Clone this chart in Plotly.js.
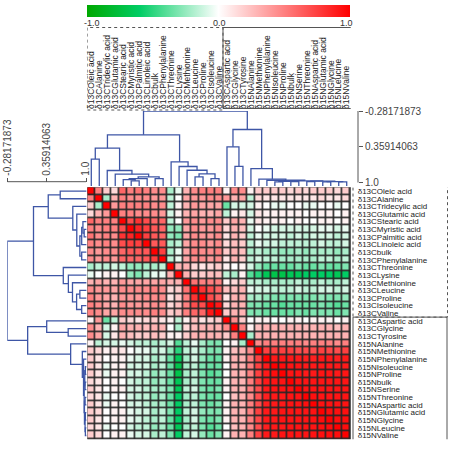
<!DOCTYPE html>
<html><head><meta charset="utf-8">
<script src="https://cdn.plot.ly/plotly-3.0.1.min.js"></script>
<style>html,body{margin:0;padding:0;background:#fff}#chart{width:449px;height:449px}</style>
</head><body><div id="chart"></div>
<script>
const labels = ['δ13COleic acid','δ13CAlanine','δ13CTridecylic acid','δ13CGlutamic acid','δ13CStearic acid','δ13CMyristic acid','δ13CPalmitic acid','δ13CLinoleic acid','δ13Cbulk','δ13CPhenylalanine','δ13CThreonine','δ13CLysine','δ13CMethionine','δ13CLeucine','δ13CProline','δ13CIsoleucine','δ13CValine','δ13CAspartic acid','δ13CGlycine','δ13CTyrosine','δ15NAlanine','δ15NMethionine','δ15NPhenylalanine','δ15NIsoleucine','δ15NProline','δ15Nbulk','δ15NSerine','δ15NThreonine','δ15NAspartic acid','δ15NGlutamic acid','δ15NGlycine','δ15NLeucine','δ15NValine'];

// lower triangle of the correlation matrix (row i holds columns 0..i)
const corrLower = [
[1],
[0.5,1],
[0.2,-0.2,1],
[0.15,0.3,0.4,1],
[0.6,0.5,0.5,0.5,1],
[0.5,0.45,0.5,0.5,0.7,1],
[0.55,0.45,0.5,0.45,0.8,0.85,1],
[0.5,0.45,0.5,0.45,0.7,0.75,0.75,1],
[0.45,0.4,0.45,0.45,0.6,0.65,0.65,0.65,1],
[0.45,0.4,0.45,0.4,0.6,0.6,0.6,0.65,0.75,1],
[-0.2,-0.15,-0.15,-0.1,-0.15,-0.25,-0.25,-0.2,-0.2,-0.15,1],
[-0.05,0.0,0.05,0.05,0.0,-0.25,-0.3,-0.15,-0.05,-0.05,0.3,1],
[0.3,0.35,0.3,0.3,0.4,0.35,0.35,0.35,0.35,0.35,0.3,0.3,1],
[0.45,0.4,0.4,0.35,0.45,0.45,0.45,0.45,0.5,0.45,0.15,0.2,0.55,1],
[0.5,0.4,0.35,0.3,0.4,0.4,0.4,0.45,0.45,0.45,0.1,0.2,0.5,0.8,1],
[0.5,0.45,0.35,0.3,0.45,0.4,0.4,0.4,0.45,0.4,0.15,0.25,0.5,0.7,0.7,1],
[0.5,0.45,0.35,0.35,0.45,0.45,0.45,0.45,0.5,0.45,0.2,0.25,0.5,0.6,0.6,0.9,1],
[0.05,0.4,-0.35,-0.15,0.2,0.15,0.1,0.15,0.2,0.1,0.05,-0.15,0.05,0.25,0.1,0.15,0.2,1],
[0.45,0.3,-0.1,0.05,0.35,0.3,0.3,0.25,0.3,0.3,0.0,-0.2,0.15,0.25,0.3,0.3,0.3,0.45,1],
[0.45,0.35,-0.1,0.1,0.3,0.25,0.2,0.2,0.25,0.2,0.05,0.05,0.2,0.3,0.3,0.3,0.3,0.2,0.5,1],
[0.05,-0.15,-0.1,-0.1,-0.05,-0.1,-0.15,-0.15,-0.2,-0.15,-0.1,-0.4,-0.15,-0.05,-0.2,-0.3,-0.3,0.0,0.05,-0.2,1],
[0.2,0.15,0.05,0.1,0.1,0.0,-0.05,-0.05,-0.15,-0.1,-0.25,-0.5,-0.15,-0.1,-0.2,-0.3,-0.3,0.05,0.25,0.3,0.45,1],
[0.2,0.1,0.0,0.05,0.05,-0.05,-0.1,-0.1,-0.2,-0.15,-0.35,-0.65,-0.2,-0.1,-0.25,-0.35,-0.35,0.05,0.3,0.3,0.5,0.75,1],
[0.2,0.1,-0.05,0.05,0.05,-0.1,-0.1,-0.1,-0.2,-0.15,-0.35,-0.7,-0.2,-0.15,-0.3,-0.35,-0.35,0.0,0.3,0.3,0.5,0.75,0.9,1],
[0.2,0.1,-0.05,0.05,0.05,-0.1,-0.1,-0.15,-0.25,-0.2,-0.35,-0.7,-0.2,-0.15,-0.3,-0.4,-0.35,0.0,0.3,0.3,0.5,0.75,0.9,0.95,1],
[0.15,0.1,0.0,0.05,0.0,-0.1,-0.15,-0.15,-0.25,-0.2,-0.35,-0.65,-0.2,-0.15,-0.3,-0.35,-0.35,0.05,0.3,0.3,0.5,0.75,0.9,0.92,0.92,1],
[0.2,0.1,0.0,0.05,0.05,-0.1,-0.1,-0.15,-0.2,-0.2,-0.3,-0.65,-0.15,-0.1,-0.3,-0.35,-0.3,0.05,0.3,0.3,0.5,0.7,0.9,0.92,0.92,0.93,1],
[0.15,0.1,-0.05,0.0,0.0,-0.1,-0.15,-0.15,-0.25,-0.2,-0.35,-0.6,-0.2,-0.15,-0.3,-0.35,-0.35,0.0,0.25,0.3,0.45,0.7,0.88,0.9,0.9,0.92,0.92,1],
[0.2,0.1,-0.05,0.05,0.0,-0.1,-0.1,-0.15,-0.2,-0.2,-0.35,-0.6,-0.2,-0.15,-0.3,-0.35,-0.3,0.05,0.3,0.3,0.5,0.7,0.88,0.9,0.9,0.92,0.92,0.94,1],
[0.2,0.15,0.0,0.05,0.05,-0.05,-0.1,-0.1,-0.2,-0.15,-0.3,-0.6,-0.15,-0.1,-0.25,-0.3,-0.3,0.05,0.3,0.3,0.5,0.75,0.9,0.9,0.92,0.92,0.92,0.92,0.93,1],
[0.2,0.1,0.0,0.05,0.05,-0.05,-0.1,-0.15,-0.2,-0.15,-0.35,-0.6,-0.2,-0.1,-0.3,-0.35,-0.3,0.05,0.3,0.3,0.5,0.72,0.9,0.9,0.92,0.92,0.92,0.92,0.93,0.95,1],
[0.15,0.1,-0.05,0.0,0.0,-0.1,-0.15,-0.15,-0.25,-0.2,-0.35,-0.65,-0.2,-0.15,-0.3,-0.4,-0.35,0.0,0.25,0.3,0.45,0.7,0.88,0.9,0.9,0.92,0.92,0.92,0.92,0.94,0.95,1],
[0.2,0.15,0.0,0.05,0.05,-0.05,-0.1,-0.1,-0.2,-0.15,-0.3,-0.6,-0.15,-0.1,-0.25,-0.35,-0.3,0.05,0.3,0.3,0.5,0.75,0.9,0.9,0.92,0.92,0.92,0.92,0.93,0.94,0.95,0.95,1]
];

// hierarchical clustering merges (node ids >= 33 refer to earlier merges)
const mergeLeft   = [5,4,34,8,35,3,2,0,40,15,13,43,12,11,10,41,18,17,23,25,51,29,31,54,27,57,53,22,21,20,50,48];
const mergeRight  = [6,33,7,9,36,37,38,1,39,16,14,42,44,45,46,47,19,49,24,26,52,30,32,55,28,56,58,59,60,61,62,63];
const mergeHeight = [0.97,0.95,0.93,0.93,0.90,0.85,0.785,0.58,0.385,0.93,0.9,0.847,0.78,0.713,0.63,0.145,0.71,0.36,0.99,0.985,0.98,0.99,0.99,0.985,0.985,0.975,0.97,0.96,0.94,0.75,0.05,-0.28171873];

const dendroTickVals = [-0.28171873, 0.35914063, 1.0];
const dendroTickText = ['-0.28171873', '0.35914063', '1.0'];
const colorTickVals = [-1, 0, 1];
const colorTickText = ['-1.0', '0.0', '1.0'];

// ---------- build ----------
const n = labels.length;
const idx = labels.map((_, i) => i);
const z = [];
for (let i = 0; i < n; i++) {
  const row = [];
  for (let j = 0; j < n; j++) row.push(i >= j ? corrLower[i][j] : corrLower[j][i]);
  z.push(row);
}

const W = 449, H = 449;
const px = v => v / W, py = v => 1 - v / H;
const gridL = 87.3, gridR = 350.7, gridT = 187.3, gridB = 439.3;
const cellH = (gridB - gridT) / n;

const topPxPerUnit = (182.5 - 111) / (1.0 - dendroTickVals[0]);
const topLeaf = 1.0 + (186 - 182.5) / topPxPerUnit;
const leftPxPerUnit = (86 - 7.3) / (1.0 - dendroTickVals[0]);
const leftLeaf = 1.0 + (86.6 - 86) / leftPxPerUnit;

function dendroPaths(leafH) {
  const pos = idx.slice(), hgt = idx.map(() => leafH);
  const a = [], b = [];
  for (let k = 0; k < mergeLeft.length; k++) {
    const L = mergeLeft[k], R = mergeRight[k], h = mergeHeight[k];
    a.push(pos[L], pos[L], pos[R], pos[R], null);
    b.push(hgt[L], h, h, hgt[R], null);
    pos.push((pos[L] + pos[R]) / 2);
    hgt.push(h);
  }
  return {a, b};
}
const topD = dendroPaths(topLeaf);
const leftD = dendroPaths(leftLeaf);

const lineStyle = {color: 'rgb(62,86,166)', width: 1.3};
const font = 'Arial, Liberation Sans, sans-serif';

const traces = [
  {
    type: 'heatmap', z: z, x: idx, y: idx, xaxis: 'x', yaxis: 'y',
    zmin: -1, zmax: 1, xgap: 1.6, ygap: 1.6, hoverinfo: 'skip',
    colorscale: [[0, 'rgb(0,168,0)'], [0.2, 'rgb(0,205,100)'], [0.5, 'rgb(255,255,255)'], [1, 'rgb(255,0,0)']],
    colorbar: {
      orientation: 'h', x: px((gridL + gridR) / 2), xanchor: 'center', y: py(5), yanchor: 'top',
      len: gridR - gridL, lenmode: 'pixels', thickness: 12, thicknessmode: 'pixels',
      xpad: 0, ypad: 0, outlinewidth: 0, showticklabels: false, ticks: ''
    }
  },
  {type: 'scatter', mode: 'lines', x: topD.a, y: topD.b, xaxis: 'x2', yaxis: 'y2', line: lineStyle, hoverinfo: 'skip'},
  {type: 'scatter', mode: 'lines', x: leftD.b, y: leftD.a, xaxis: 'x3', yaxis: 'y3', line: lineStyle, hoverinfo: 'skip'}
];

const hidden = {showgrid: false, zeroline: false, showticklabels: false, ticks: '', showline: false};
const axisFont = {family: font, size: 10, color: '#444'};
const rowFont = {family: font, size: 8, color: '#222'};
const colFont = {family: font, size: 8.5, color: '#222'};

const layout = {
  width: W, height: H, autosize: false, margin: {l: 0, r: 0, t: 0, b: 0},
  paper_bgcolor: '#fff', plot_bgcolor: 'rgba(0,0,0,0)', showlegend: false, hovermode: false,
  xaxis: {domain: [px(gridL), px(gridR)], range: [-0.5, n - 0.5], anchor: 'free', position: py(109), side: 'top',
          tickmode: 'array', tickvals: idx, ticktext: labels, tickangle: -90, tickfont: colFont,
          ticks: '', ticklen: 0, ticklabelstandoff: 0, showgrid: false, zeroline: false, showline: false},
  yaxis: {domain: [py(gridB), py(gridT)], range: [n - 0.5, -0.5], anchor: 'x', side: 'right',
          tickmode: 'array', tickvals: idx, ticktext: labels, tickfont: rowFont,
          ticks: '', ticklen: 0, ticklabelstandoff: 6, showgrid: false, zeroline: false, showline: false},
  xaxis2: Object.assign({domain: [px(gridL), px(gridR)], range: [-0.5, n - 0.5], anchor: 'y2'}, hidden),
  yaxis2: {domain: [py(186), py(111)], range: [topLeaf, dendroTickVals[0]], anchor: 'free', position: px(358), side: 'right',
           tickmode: 'array', tickvals: dendroTickVals, ticktext: dendroTickText, tickfont: axisFont,
           ticks: 'outside', ticklen: 4, tickcolor: '#555', showgrid: false, zeroline: false, showline: false},
  xaxis3: {domain: [px(7.3), px(86.6)], range: [dendroTickVals[0], leftLeaf], anchor: 'free', position: py(181.7), side: 'top',
           tickmode: 'array', tickvals: dendroTickVals, ticktext: dendroTickText, tickfont: axisFont, tickangle: -90,
           ticks: 'outside', ticklen: 4, tickcolor: '#555', showgrid: false, zeroline: false, showline: false},
  yaxis3: Object.assign({domain: [py(gridB), py(gridT)], range: [n - 0.5, -0.5], anchor: 'x3'}, hidden),
  shapes: [
    {type: 'rect', xref: 'x', yref: 'y', x0: -0.5, x1: n - 0.5, y0: -0.5, y1: n - 0.5, layer: 'below',
     fillcolor: '#262626', line: {color: '#333', width: 1}},
    {type: 'line', xref: 'paper', yref: 'y2', x0: px(358), x1: px(358), y0: dendroTickVals[0], y1: 1.0, line: {color: '#555', width: 1}},
    {type: 'line', xref: 'x3', yref: 'paper', x0: dendroTickVals[0], x1: 1.0, y0: py(181.7), y1: py(181.7), line: {color: '#555', width: 1}},
    {type: 'rect', xref: 'x', yref: 'paper', x0: -0.5, x1: 16.5, y0: py(110), y1: py(27.5), line: {color: '#555', width: 1, dash: 'dot'}},
    {type: 'rect', xref: 'x', yref: 'paper', x0: 16.5, x1: n - 0.3, y0: py(108.5), y1: py(27.5), line: {color: '#555', width: 1}},
    {type: 'rect', xref: 'paper', yref: 'y', x0: px(353), x1: px(447.5), y0: -0.5 - (gridT - 182.7) / cellH, y1: 16.5, line: {color: '#555', width: 1, dash: 'dot'}},
    {type: 'rect', xref: 'paper', yref: 'y', x0: px(353), x1: px(447), y0: 16.5, y1: n - 0.5 + (440.7 - gridB) / cellH, line: {color: '#555', width: 1}}
  ],
  annotations: colorTickVals.map((v, i) => ({
    xref: 'paper', yref: 'paper', showarrow: false,
    x: px(gridL + 4.5 + (v + 1) / 2 * (gridR - gridL - 9)), y: py(23.5),
    xanchor: 'center', yanchor: 'middle', text: colorTickText[i],
    font: {family: font, size: 9, color: '#333'}
  }))
};

Plotly.newPlot('chart', traces, layout, {staticPlot: true, displayModeBar: false});
</script>
</body></html>
